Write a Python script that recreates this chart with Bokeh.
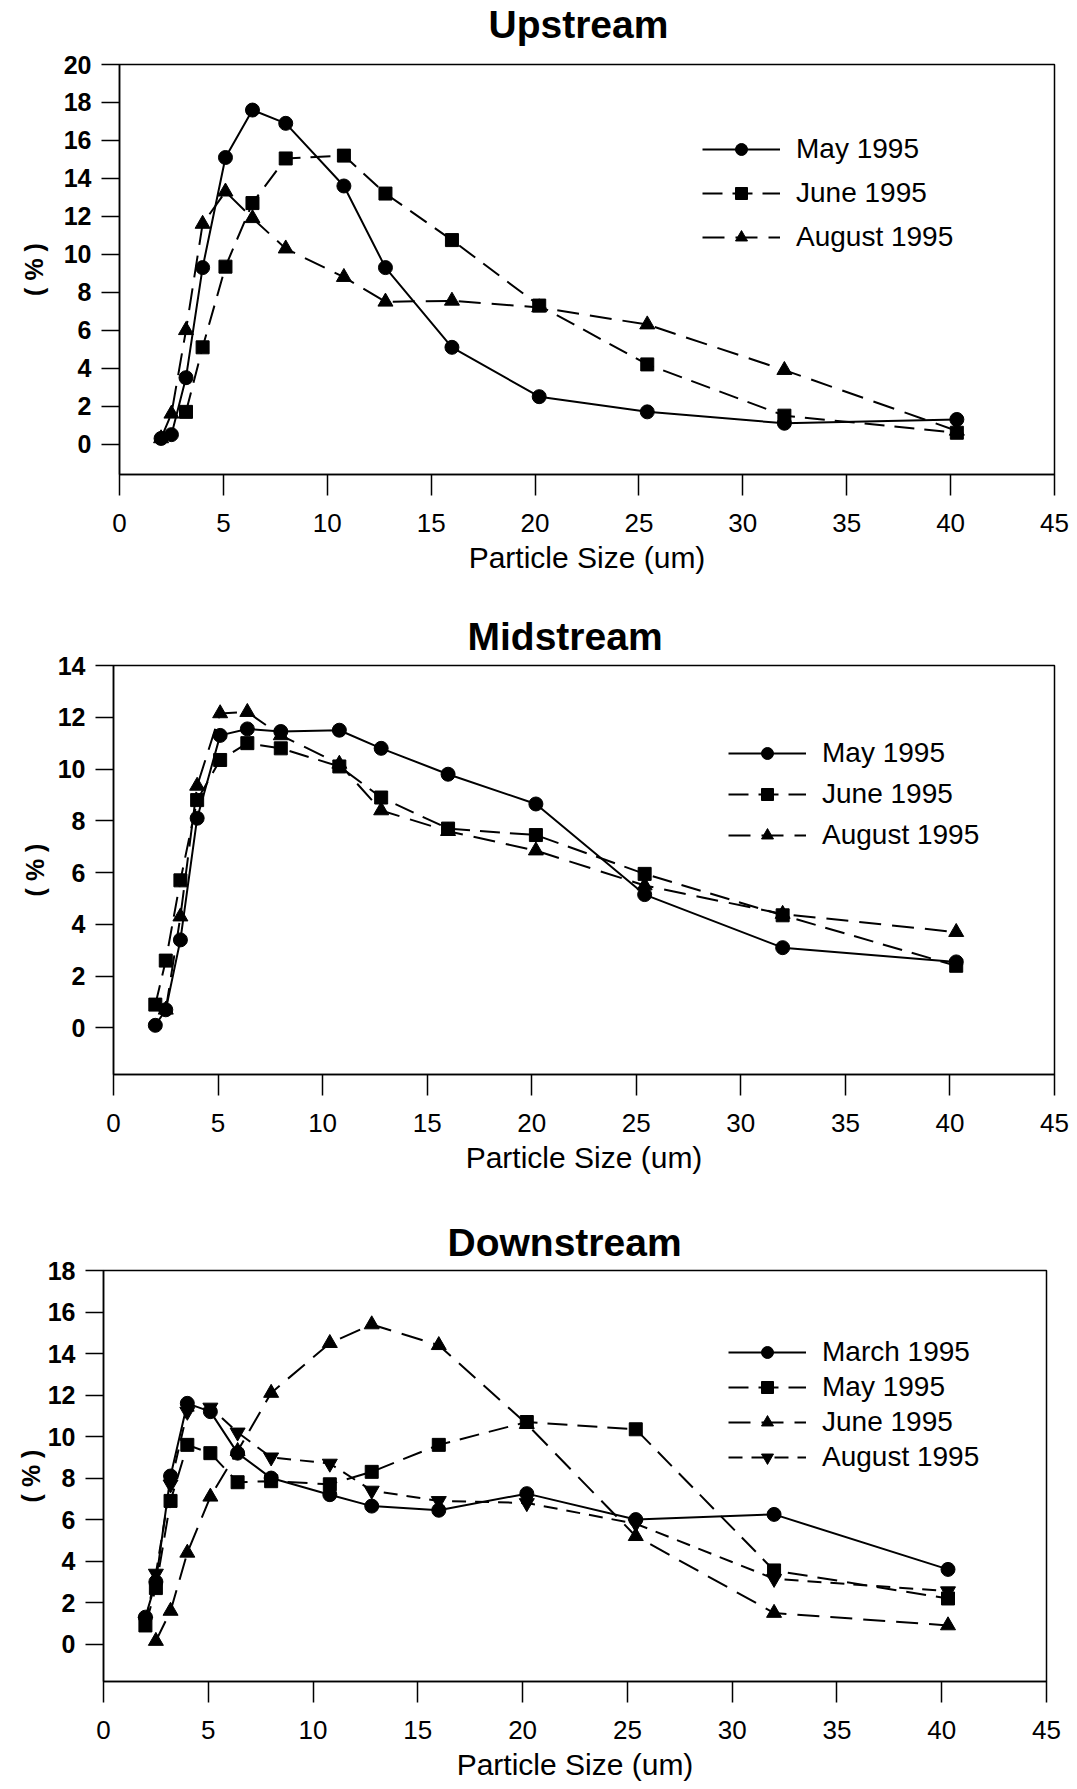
from bokeh.plotting import figure
from bokeh.models import Range1d, FixedTicker, Legend, LegendItem
from bokeh.layouts import column
from bokeh.embed import file_html
from bokeh.resources import INLINE

nan = float("nan")

# ---- data -------------------------------------------------------------
particle_size = [2.0, 2.5, 3.2, 4.0, 5.1, 6.4, 8.0, 10.8, 12.8, 16.0, 20.2, 25.4, 32.0, 40.3]
x_ticks = [0, 5, 10, 15, 20, 25, 30, 35, 40, 45]

up_may = [0.3, 0.5, 3.5, 9.3, 15.1, 17.6, 16.9, 13.6, 9.3, 5.1, 2.5, 1.7, 1.1, 1.3]
up_june = [nan, nan, 1.7, 5.1, 9.35, 12.7, 15.05, 15.2, 13.2, 10.75, 7.3, 4.2, 1.5, 0.6]
up_aug = [0.3, 1.6, 6.0, 11.6, 13.3, 11.9, 10.3, 8.8, 7.5, 7.55, 7.2, 6.3, 3.9, 0.7]
up_ticks = [0, 2, 4, 6, 8, 10, 12, 14, 16, 18, 20]

mid_may = [0.1, 0.7, 3.4, 8.1, 11.3, 11.55, 11.45, 11.5, 10.8, 9.8, 8.65, 5.15, 3.1, 2.55]
mid_june = [0.9, 2.6, 5.7, 8.8, 10.35, 11.0, 10.8, 10.1, 8.9, 7.7, 7.45, 5.95, 4.35, 2.4]
mid_aug = [nan, 0.7, 4.3, 9.35, 12.15, 12.2, 11.3, 10.2, 8.4, 7.6, 6.85, 5.5, 4.4, 3.7]
mid_ticks = [0, 2, 4, 6, 8, 10, 12, 14]

down_mar = [1.3, 3.0, 8.1, 11.6, 11.2, 9.2, 8.0, 7.2, 6.65, 6.45, 7.25, 6.0, 6.25, 3.6]
down_may = [0.9, 2.7, 6.9, 9.6, 9.2, 7.8, 7.85, 7.7, 8.3, 9.6, 10.7, 10.35, 3.55, 2.2]
down_june = [nan, 0.15, 1.6, 4.4, 7.1, 9.3, 12.1, 14.5, 15.4, 14.4, 10.6, 5.2, 1.5, 0.9]
down_aug = [1.1, 3.4, 7.7, 11.2, 11.4, 10.2, 9.0, 8.7, 7.4, 6.9, 6.8, 5.8, 3.15, 2.55]
down_ticks = [0, 2, 4, 6, 8, 10, 12, 14, 16, 18]

FONT = "Liberation Sans, Arial, sans-serif"
BORDER_LEFT = 103
BORDER_RIGHT = 23


def make_panel(title, series, y_range, y_ticks, width, height, margin, b_top, b_bottom,
               title_standoff, title_offset, ylabel_standoff, legend_xy, legend_spacing):
    p = figure(width=width, height=height, output_backend="svg", toolbar_location=None,
               x_range=Range1d(0, 45), y_range=Range1d(*y_range),
               min_border_top=b_top, min_border_bottom=b_bottom,
               min_border_left=BORDER_LEFT, min_border_right=BORDER_RIGHT,
               margin=margin)
    p.title.text = title
    p.title.align = "left"
    p.title.offset = title_offset
    p.title.standoff = title_standoff
    p.title.text_font = FONT
    p.title.text_font_size = "39px"
    p.title.text_font_style = "bold"
    p.title.text_color = "black"

    p.xgrid.visible = False
    p.ygrid.visible = False
    p.outline_line_color = "black"
    p.outline_line_width = 1.5
    p.background_fill_color = "white"
    p.border_fill_color = "white"

    for ax in (p.xaxis[0], p.yaxis[0]):
        ax.axis_line_color = "black"
        ax.axis_line_width = 1.5
        ax.major_tick_line_color = "black"
        ax.major_tick_line_width = 1.5
        ax.major_tick_in = 0
        ax.minor_tick_line_color = None
        ax.major_label_text_font = FONT
        ax.major_label_text_color = "black"
        ax.axis_label_text_font = FONT
        ax.axis_label_text_color = "black"
        ax.axis_label_text_font_style = "normal"

    p.xaxis.ticker = FixedTicker(ticks=x_ticks)
    p.xaxis.major_tick_out = 21
    p.xaxis.major_label_text_font_size = "26px"
    p.xaxis.major_label_standoff = 18
    p.xaxis.axis_label = "Particle Size (um)"
    p.xaxis.axis_label_text_font_size = "30px"
    p.xaxis.axis_label_standoff = 6

    p.yaxis.ticker = FixedTicker(ticks=y_ticks)
    p.yaxis.major_tick_out = 18
    p.yaxis.major_label_text_font_size = "25px"
    p.yaxis.major_label_text_font_style = "bold"
    p.yaxis.major_label_standoff = 10
    p.yaxis.axis_label = "( % )"
    p.yaxis.axis_label_text_font_size = "25px"
    p.yaxis.axis_label_text_font_style = "bold"
    p.yaxis.axis_label_standoff = ylabel_standoff

    items = []
    for label, ys, marker, msize, dash in series:
        lr = p.line(particle_size, ys, line_color="black", line_width=2, line_dash=dash)
        sr = p.scatter(particle_size, ys, marker=marker, size=msize,
                       fill_color="black", line_color="black")
        items.append(LegendItem(label=label, renderers=[lr, sr]))

    legend = Legend(items=items, location=legend_xy, padding=0, margin=0,
                    border_line_color=None, background_fill_alpha=0,
                    glyph_width=78, glyph_height=30, label_height=30,
                    label_standoff=16, spacing=legend_spacing,
                    label_text_font=FONT, label_text_font_size="28px",
                    label_text_color="black")
    p.add_layout(legend)
    return p


p1 = make_panel("Upstream",
                [("May 1995", up_may, "circle", 14, "solid"),
                 ("June 1995", up_june, "square", 13, "20 10"),
                 ("August 1995", up_aug, "triangle", 15, "22 11")],
                (-1.6, 20), up_ticks, 1061, 608, (-18, 0, 0, 16), 64, 116,
                37, 369, 13, (583, 221), 12)

p2 = make_panel("Midstream",
                [("May 1995", mid_may, "circle", 14, "solid"),
                 ("June 1995", mid_june, "square", 13, "20 10"),
                 ("August 1995", mid_aug, "triangle", 15, "22 11")],
                (-1.8, 14), mid_ticks, 1067, 600, (0, 0, 0, 10), 75, 116,
                16, 354, 6, (615, 223), 9)

p3 = make_panel("Downstream",
                [("March 1995", down_mar, "circle", 14, "solid"),
                 ("May 1995", down_may, "square", 13, "20 10"),
                 ("June 1995", down_june, "triangle", 15, "22 11"),
                 ("August 1995", down_aug, "inverted_triangle", 15, "14 9")],
                (-1.8, 18), down_ticks, 1069, 599, (0, 0, 0, 0), 80, 108,
                14, 344, 0, (625, 208), 3)

layout = column(p1, p2, p3, spacing=0)
open("out.html", "w").write(file_html(layout, INLINE))
